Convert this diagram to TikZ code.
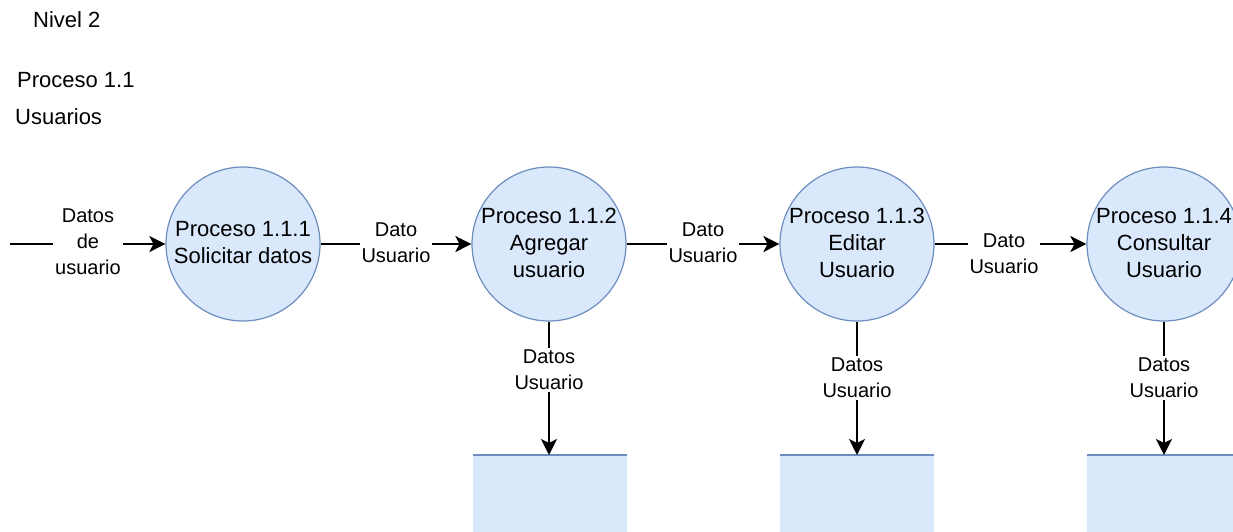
\documentclass[tikz,border=0pt]{standalone}
\usepackage{fontspec}
\setmainfont{Liberation Sans}
\usetikzlibrary{arrows.meta}
\definecolor{procfill}{HTML}{DAE8FC}
\definecolor{procline}{HTML}{6C8EBF}
\begin{document}
\begin{tikzpicture}[x=1pt,y=-1pt,
  proc/.style={circle,draw=procline,fill=procfill,line width=1.2pt,minimum size=154pt,inner sep=0pt},
  ptext/.style={align=center,inner sep=0pt,font=\fontsize{22}{27}\selectfont},
  title/.style={anchor=west,inner sep=0pt,font=\fontsize{22}{27}\selectfont},
  lbl/.style={align=center,fill=white,inner sep=2pt,font=\fontsize{20}{26}\selectfont},
  flow/.style={draw=black,line width=1.8pt,-{Stealth[length=16pt,width=16pt,inset=4pt]}},
  store/.style={fill=procfill,draw=none,minimum width=154pt,minimum height=100pt,inner sep=0pt,anchor=north},
  storeline/.style={draw=procline,line width=1.5pt}]
\useasboundingbox (0,0) rectangle (1233,531);
\clip (0,0) rectangle (1233,531);
\fill[white] (0,0) rectangle (1233,531);
% titles
\node[title] (tnivel) at (33,20) {Nivel 2};
\node[title] (tproc) at (17,80) {Proceso 1.1};
\node[title] (tusu) at (15,117) {Usuarios};
% processes
\node[proc] (p1) at (243,244) {};
\node[proc] (p2) at (549,244) {};
\node[proc] (p3) at (857,244) {};
\node[proc] (p4) at (1164,244) {};
\node[ptext] (t1) at (243,243) {Proceso 1.1.1\\Solicitar datos};
\node[ptext] (t2) at (549,243) {Proceso 1.1.2\\Agregar\\usuario};
\node[ptext] (t3) at (857,243) {Proceso 1.1.3\\Editar\\Usuario};
\node[ptext] (t4) at (1164,243) {Proceso 1.1.4\\Consultar\\Usuario};
% stores
\node[store] (s2) at (550,455) {};
\node[store] (s3) at (857,455) {};
\node[store] (s4) at (1164,455) {};
\draw[storeline] (s2.north west) -- (s2.north east);
\draw[storeline] (s3.north west) -- (s3.north east);
\draw[storeline] (s4.north west) -- (s4.north east);
% flows
\coordinate (in) at (10,244);
\draw[flow] (in) -- (p1);
\node[lbl] (l0) at (88,242) {Datos\\de\\usuario};
\draw[flow] (p1) -- (p2);
\node[lbl] (l1) at (396,243) {Dato\\Usuario};
\draw[flow] (p2) -- (p3);
\node[lbl] (l2) at (703,243) {Dato\\Usuario};
\draw[flow] (p3) -- (p4);
\node[lbl] (l3) at (1004,254) {Dato\\Usuario};
\draw[flow] (p2) -- (p2 |- s2.north);
\node[lbl] (l4) at (549,370) {Datos\\Usuario};
\draw[flow] (p3) -- (s3.north);
\node[lbl] (l5) at (857,378) {Datos\\Usuario};
\draw[flow] (p4) -- (s4.north);
\node[lbl] (l6) at (1164,378) {Datos\\Usuario};
\end{tikzpicture}
\end{document}
